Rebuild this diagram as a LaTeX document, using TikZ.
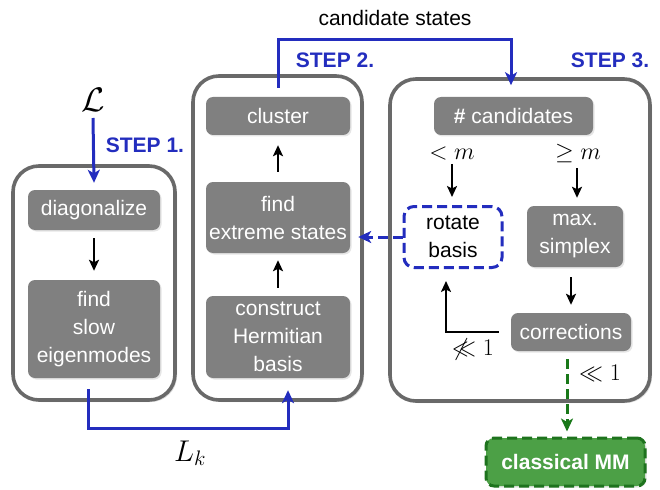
\RequirePackage{fix-cm}
\documentclass[tikz,border=0pt]{standalone}
\usepackage{fontspec}
\setsansfont{Liberation Sans}
\usetikzlibrary{arrows.meta,shadows}
\definecolor{stepblue}{RGB}{35,45,190}
\definecolor{boxgray}{RGB}{128,128,128}
\definecolor{framegray}{RGB}{105,105,105}
\definecolor{mmgreen}{RGB}{76,160,70}
\definecolor{mmborder}{RGB}{30,115,30}
\definecolor{arrgreen}{RGB}{25,120,25}
\begin{document}
\begin{tikzpicture}[x=1pt,y=-1pt,
  outer/.style={draw=framegray, line width=3.6pt, rounded corners=26pt, fill=white,
    drop shadow={opacity=0.25, shadow xshift=2pt, shadow yshift=-2pt}},
  inner/.style={fill=boxgray, rounded corners=7pt, text=white, inner sep=0pt,
    font=\sffamily\fontsize{21}{28}\selectfont, align=center,
    drop shadow={opacity=0.2, shadow xshift=1.5pt, shadow yshift=-1.5pt}},
  steplab/.style={text=stepblue, font=\sffamily\bfseries\fontsize{21}{24}\selectfont},
  mathlab/.style={font=\fontsize{24}{28}\selectfont, inner sep=0pt},
  blk/.style={draw=black, line width=2.2pt, -{Stealth[length=11pt,width=10pt,inset=2.5pt]}},
  blu/.style={draw=stepblue, line width=3pt, -{Stealth[length=13pt,width=12pt,inset=3.5pt]}},
]
\useasboundingbox (0,0) rectangle (660,489);

% outer boxes
\node[outer, minimum width=162pt, minimum height=234pt] (box1) at (94,283) {};
\node[outer, minimum width=169pt, minimum height=324pt] (box2) at (277.5,238) {};
\node[outer, minimum width=260pt, minimum height=322pt] (box3) at (520,240) {};

% step 1
\node[inner, minimum width=132pt, minimum height=40pt] (diag) at (94,210) {diagonalize};
\node[inner, minimum width=132pt, minimum height=98pt] (slow) at (94,329) {find\\slow\\eigenmodes};

% step 2
\node[inner, minimum width=144pt, minimum height=38pt] (cluster) at (278,116) {cluster};
\node[inner, minimum width=144pt, minimum height=71pt] (extreme) at (278,217.5) {find\\extreme states};
\node[inner, minimum width=144pt, minimum height=82pt] (herm) at (278,337) {construct\\Hermitian\\basis};

% step 3
\node[inner, minimum width=159pt, minimum height=38pt] (cand) at (513.5,116) {\textbf{\#} candidates};
\node[draw=stepblue, dash pattern=on 10pt off 5pt, line width=3pt, fill=white,
  rounded corners=10pt, minimum width=98pt, minimum height=61pt, inner sep=0pt,
  font=\sffamily\fontsize{21}{28}\selectfont, align=center] (rot) at (453,237) {rotate\\basis};
\node[inner, minimum width=96pt, minimum height=61pt] (simplex) at (575,236.5) {max.\\simplex};
\node[inner, minimum width=120pt, minimum height=38pt] (corr) at (571,332) {corrections};
\node[fill=mmgreen, draw=mmborder, line width=3pt, dash pattern=on 10pt off 5pt,
  rounded corners=8pt, minimum width=159pt, minimum height=48pt, inner sep=0pt,
  text=white, font=\sffamily\bfseries\fontsize{21}{24}\selectfont,
  drop shadow={opacity=0.2, shadow xshift=1.5pt, shadow yshift=-1.5pt}] (mm) at (565.5,462) {classical MM};

% labels
\node[font=\sffamily\fontsize{21}{24}\selectfont] (candst) at (395,18) {candidate states};
\node[steplab] (s1) at (145,145) {STEP 1.};
\node[steplab] (s2) at (335,60) {STEP 2.};
\node[steplab] (s3) at (610,60) {STEP 3.};
\node[font=\fontsize{34}{40}\selectfont, inner sep=0pt] (calL) at (93,100) {$\mathcal{L}$};
\node[font=\fontsize{30}{36}\selectfont, inner sep=0pt] (lk) at (190,453) {$L_k$};
\node[mathlab] (lt) at (452,153) {$<m$};
\node[mathlab] (ge) at (578,153) {$\geq m$};
\node[mathlab] (nll) at (473,349) {$\not\ll 1$};
\node[mathlab] (ll) at (600,373) {$\ll 1$};

% black arrows
\draw[blk, shorten <=8pt, shorten >=9pt] (diag) -- (slow);
\draw[blk, shorten <=10pt, shorten >=10pt] (extreme) -- (cluster);
\draw[blk, shorten <=8pt, shorten >=7pt] (herm) -- (extreme);
\draw[blk, shorten <=4pt, shorten >=8pt] (lt) -- (lt |- rot.north);
\coordinate (gex) at (577,153);
\draw[blk, shorten <=15pt, shorten >=8pt] (gex) -- (gex |- simplex.north);
\coordinate (scx) at (571,236.5);
\draw[blk, shorten <=10pt, shorten >=8pt] (scx |- simplex.south) -- (corr.north);
\coordinate (fbtip) at ([xshift=-7pt,yshift=-12pt]rot.south);
\draw[blk, shorten <=12pt] (corr.west) -| (fbtip);

% green dashed arrow
\draw[draw=arrgreen, line width=3pt, dash pattern=on 10pt off 5pt,
  -{Stealth[length=13pt,width=12pt,inset=3.5pt]}]
  ([xshift=-4pt,yshift=-8pt]corr.south) -- ([xshift=1.5pt,yshift=5pt]mm.north);

% blue arrows
\draw[blu] ([yshift=-18pt]calL.center) -- ([yshift=7pt]diag.north);
\draw[blu, dash pattern=on 10pt off 5pt] (rot.west) -- ([xshift=8pt]rot.west -| extreme.east);
\coordinate (t1) at (278,40);
\coordinate (t2) at (511,40);
\draw[blu] ([yshift=9pt]cluster.north) -- (t1) -- (t2) -- ([xshift=-9pt,yshift=-8pt]box3.north);
\coordinate (b1) at (88,428);
\coordinate (b2) at (288,428);
\draw[blu] ([xshift=-6pt,yshift=-11pt]slow.south) -- (b1) -- (b2) -- ([xshift=10pt,yshift=-12pt]herm.south);
\end{tikzpicture}
\end{document}
